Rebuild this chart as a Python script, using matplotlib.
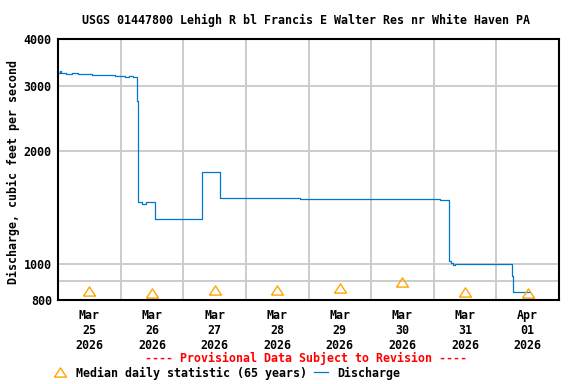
import matplotlib
matplotlib.use("Agg")
import matplotlib.pyplot as plt
import matplotlib.dates as mdates
from matplotlib.ticker import FixedLocator, FixedFormatter, NullFormatter
import numpy as np

# ---- data ----
title = "USGS 01447800 Lehigh R bl Francis E Walter Res nr White Haven PA"
ylabel = "Discharge, cubic feet per second"
provisional = "---- Provisional Data Subject to Revision ----"

q_times = ["2026-03-25T00:00", "2026-03-25T00:45", "2026-03-25T01:15", "2026-03-25T03:00",
           "2026-03-25T05:30", "2026-03-25T07:45", "2026-03-25T10:15", "2026-03-25T13:00",
           "2026-03-25T16:00", "2026-03-25T19:15", "2026-03-25T21:45", "2026-03-25T23:45",
           "2026-03-26T01:45", "2026-03-26T03:15", "2026-03-26T04:45", "2026-03-26T06:15",
           "2026-03-26T06:30", "2026-03-26T06:45", "2026-03-26T08:15", "2026-03-26T09:45",
           "2026-03-26T13:15", "2026-03-27T07:00", "2026-03-27T14:00", "2026-03-28T20:45",
           "2026-03-30T03:30", "2026-03-31T02:30", "2026-03-31T06:00", "2026-03-31T06:30",
           "2026-03-31T07:15", "2026-03-31T08:00", "2026-04-01T06:00", "2026-04-01T06:30",
           "2026-04-01T13:00"]
q_values = [3250, 3275, 3245, 3225,
            3240, 3220, 3230, 3210,
            3205, 3195, 3190, 3180,
            3165, 3175, 3160, 2730,
            1970, 1460, 1448, 1460,
            1320, 1760, 1497, 1492,
            1487, 1483, 1015, 1005,
            993, 1000, 925, 840,
            840]

median_days = ["2026-03-25T12:00", "2026-03-26T12:00", "2026-03-27T12:00", "2026-03-28T12:00",
               "2026-03-29T12:00", "2026-03-30T12:00", "2026-03-31T12:00", "2026-04-01T12:00"]
median_values = [844, 833, 851, 851, 860, 892, 840, 834]

x_tick_labels = ["Mar\n25\n2026", "Mar\n26\n2026", "Mar\n27\n2026", "Mar\n28\n2026",
                 "Mar\n29\n2026", "Mar\n30\n2026", "Mar\n31\n2026", "Apr\n01\n2026"]
y_ticks = [800, 1000, 2000, 3000, 4000]
y_grid = [900]

# ---- style ----
FONT = {"family": "DejaVu Sans Mono", "weight": "bold", "size": 8.4}
plt.rcParams["font.family"] = "DejaVu Sans Mono"
plt.rcParams["font.weight"] = "bold"
plt.rcParams["font.size"] = 8.4

t = np.array(q_times, dtype="datetime64[m]")
tm = np.array(median_days, dtype="datetime64[m]")

fig = plt.figure(figsize=(5.76, 3.84), dpi=100)
ax = fig.add_axes([58/576, 1-300/384, (559-58)/576, (300-39)/384])

ax.set_yscale("log")
ax.set_ylim(800, 4000)
ax.set_xlim(np.datetime64("2026-03-25T00:00"), np.datetime64("2026-04-02T00:00"))

ax.yaxis.set_major_locator(FixedLocator(y_ticks))
ax.yaxis.set_major_formatter(FixedFormatter([str(v) for v in y_ticks]))
ax.yaxis.set_minor_locator(FixedLocator(y_grid))
ax.yaxis.set_minor_formatter(NullFormatter())
ax.xaxis.set_major_locator(FixedLocator(mdates.date2num(tm)))
ax.xaxis.set_major_formatter(FixedFormatter(x_tick_labels))
ax.xaxis.set_minor_locator(mdates.DayLocator())
ax.grid(False)
ax.yaxis.grid(True, which="both", color="#cccccc", lw=1.4)
ax.xaxis.grid(True, which="minor", color="#cccccc", lw=1.4)
ax.set_axisbelow(True)
ax.tick_params(which="both", length=0)
ax.tick_params(axis="y", pad=4.5)
ax.tick_params(axis="x", pad=6.5)
for lab in ax.get_xticklabels() + ax.get_yticklabels():
    lab.set_fontfamily("DejaVu Sans Mono")
    lab.set_fontweight("bold")
    lab.set_fontsize(8.4)
for lab in ax.get_xticklabels():
    lab.set_linespacing(1.2)
for s in ax.spines.values():
    s.set_linewidth(1.5)
    s.set_color("black")
    s.set_zorder(5)

line, = ax.plot(t, q_values, drawstyle="steps-post", color="#0077cc", lw=0.9,
                label="Discharge", zorder=3)
tri = [(-1.3, -1.0), (1.3, -1.0), (0.0, 1.0), (-1.3, -1.0)]
med, = ax.plot(tm, median_values, linestyle="none", marker=tri, markersize=8.6,
               markerfacecolor="none", markeredgecolor="#ffa500", markeredgewidth=1.0,
               label="Median daily statistic (65 years)", zorder=4)

fig.text(306/576, 1-20/384, title, ha="center", va="center", fontdict=FONT)
fig.text(13/576, 1-172/384, ylabel, ha="center", va="center", rotation=90, fontdict=FONT)
fig.text(306/576, 1-358/384, provisional, ha="center", va="center", color="#ff0000",
         fontdict=FONT)

fig.legend(handles=[med, line], loc="center left", bbox_to_anchor=(53/576, 1-373/384),
           ncol=2, frameon=False, handlelength=1.2, handletextpad=0.8, columnspacing=0.6,
           borderpad=0, borderaxespad=0, prop=FONT)

fig.savefig("out.png", dpi=100)
